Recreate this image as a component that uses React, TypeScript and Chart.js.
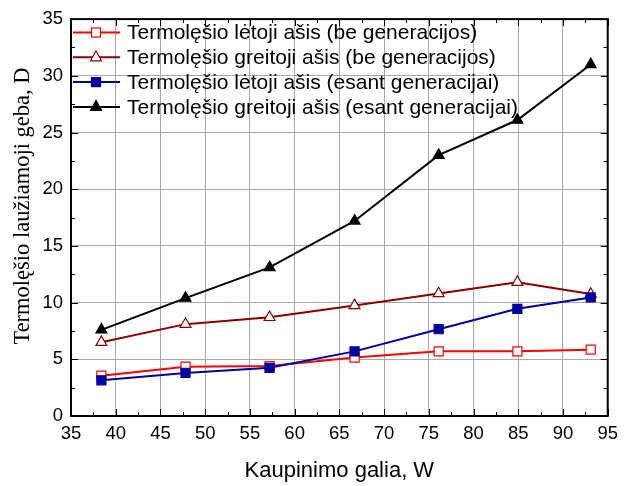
import React, { useEffect, useRef } from "react";
import { Chart, registerables } from "chart.js";

Chart.register(...registerables);

const power = [38.4, 47.8, 57.2, 66.7, 76.1, 84.9, 93.1];
const slowNoGen = [3.55, 4.35, 4.4, 5.15, 5.7, 5.7, 5.85];
const fastNoGen = [6.5, 8.1, 8.7, 9.75, 10.8, 11.8, 10.75];
const slowGen = [3.15, 3.8, 4.25, 5.7, 7.65, 9.45, 10.45];
const fastGen = [7.6, 10.4, 13.1, 17.2, 23.0, 26.1, 31.0];

const seriesNames = [
  "Termolęšio lėtoji ašis (be generacijos)",
  "Termolęšio greitoji ašis (be generacijos)",
  "Termolęšio lėtoji ašis (esant generacijai)",
  "Termolęšio greitoji ašis (esant generacijai)",
];
const xTitle = "Kaupinimo galia, W";
const yTitle = "Termolęšio laužiamoji geba, D";

const frameAndLegend = {
  id: "frameAndLegend",
  afterDatasetsDraw(chart: any) {
    const ctx = chart.ctx;
    const { left, right, top, bottom } = chart.chartArea;
    const xs = chart.scales.x;
    const ys = chart.scales.y;
    ctx.save();
    ctx.strokeStyle = "#000";
    ctx.lineWidth = 1;
    for (let v = 35; v <= 95; v += 2.5) {
      const px = Math.round(xs.getPixelForValue(v)) + 0.5;
      const len = v % 5 === 0 ? 7 : 4;
      ctx.beginPath();
      ctx.moveTo(px, bottom);
      ctx.lineTo(px, bottom - len);
      ctx.moveTo(px, top);
      ctx.lineTo(px, top + len);
      ctx.stroke();
    }
    for (let v = 0; v <= 35; v += 2.5) {
      const py = Math.round(ys.getPixelForValue(v)) + 0.5;
      const len = v % 5 === 0 ? 7 : 4;
      ctx.beginPath();
      ctx.moveTo(left, py);
      ctx.lineTo(left + len, py);
      ctx.moveTo(right, py);
      ctx.lineTo(right - len, py);
      ctx.stroke();
    }
    ctx.lineWidth = 2;
    ctx.strokeRect(left, top, right - left, bottom - top);

    // legend
    const rowY0 = 32.5;
    const rowGap = 24.8;
    chart.data.datasets.forEach((ds: any, i: number) => {
      const y = rowY0 + i * rowGap;
      ctx.strokeStyle = ds.borderColor;
      ctx.lineWidth = 2;
      ctx.beginPath();
      ctx.moveTo(left + 2, y);
      ctx.lineTo(left + 49, y);
      ctx.stroke();
      ctx.fillStyle = ds.pointBackgroundColor;
      ctx.strokeStyle = ds.pointBorderColor;
      ctx.lineWidth = ds.pointBorderWidth;
      ctx.beginPath();
      const cx = left + 25;
      if (ds.pointStyle === "rect") {
        ctx.fillRect(cx - 4.5, y - 4.5, 9, 9);
        ctx.strokeRect(cx - 4.5, y - 4.5, 9, 9);
      } else {
        ctx.moveTo(cx, y - 6.5);
        ctx.lineTo(cx + 5.5, y + 3.5);
        ctx.lineTo(cx - 5.5, y + 3.5);
        ctx.closePath();
        ctx.fill();
        ctx.stroke();
      }
      ctx.fillStyle = "#000";
      ctx.font = "21px 'Liberation Sans', Arial, sans-serif";
      ctx.textBaseline = "middle";
      ctx.textAlign = "left";
      ctx.fillText(ds.label, left + 56, y + 1);
    });

    // y-axis title
    ctx.save();
    ctx.translate(29, 206);
    ctx.rotate(-Math.PI / 2);
    ctx.fillStyle = "#000";
    ctx.font = "22.5px 'Liberation Serif', 'Times New Roman', serif";
    ctx.textAlign = "center";
    ctx.textBaseline = "alphabetic";
    ctx.fillText(yTitle, 0, 0);
    ctx.restore();

    ctx.restore();
  },
};

export default function App() {
  const ref = useRef<HTMLCanvasElement | null>(null);
  useEffect(() => {
    if (!ref.current) return;
    const mk = (
      label: string,
      data: number[],
      color: string,
      style: string,
      fill: string,
      order: number
    ) => ({
      label,
      data: power.map((x, i) => ({ x, y: data[i] })),
      borderColor: color,
      borderWidth: 2,
      pointStyle: style,
      pointRadius: style === "rect" ? 6.4 : 6.3,
      pointHoverRadius: 6,
      pointBackgroundColor: fill,
      pointBorderColor: color,
      pointBorderWidth: 1.2,
      tension: 0,
      order,
    });
    const chart = new Chart(ref.current, {
      type: "line",
      data: {
        datasets: [
          mk(seriesNames[0], slowNoGen, "#ff0000", "rect", "#ffffff", 4),
          mk(seriesNames[1], fastNoGen, "#8b0000", "triangle", "#ffffff", 3),
          mk(seriesNames[2], slowGen, "#0000a0", "rect", "#0000a0", 2),
          mk(seriesNames[3], fastGen, "#000000", "triangle", "#000000", 1),
        ],
      },
      options: {
        animation: false,
        responsive: false,
        layout: { padding: { top: 15, right: 12, left: 0, bottom: 0 } },
        plugins: { legend: { display: false }, tooltip: { enabled: false } },
        scales: {
          x: {
            type: "linear",
            min: 35,
            max: 95,
            ticks: {
              stepSize: 5,
              padding: 7,
              color: "#000",
              font: { family: "'Liberation Sans', Arial, sans-serif", size: 18.5 },
            },
            grid: { color: "#a8a8a8", lineWidth: 1, drawTicks: false },
            border: { display: false },
            title: {
              display: true,
              text: xTitle,
              color: "#000",
              font: { family: "'Liberation Sans', Arial, sans-serif", size: 22 },
              padding: { top: 0, bottom: 1.5 },
            },
            afterFit: (s: any) => {
              s.height = 70;
            },
          },
          y: {
            type: "linear",
            min: 0,
            max: 35,
            ticks: {
              stepSize: 5,
              padding: 8,
              color: "#000",
              font: { family: "'Liberation Sans', Arial, sans-serif", size: 18.5 },
            },
            grid: { color: "#a8a8a8", lineWidth: 1, drawTicks: false },
            border: { display: false },
            title: { display: false },
            afterFit: (s: any) => {
              s.width = 71;
            },
          },
        },
      },
      plugins: [frameAndLegend],
    });
    return () => chart.destroy();
  }, []);
  return (
    <div style={{ position: "absolute", left: 0, top: 0, width: 625, height: 486, background: "#fff" }}>
      <canvas ref={ref} width={625} height={486} />
    </div>
  );
}
